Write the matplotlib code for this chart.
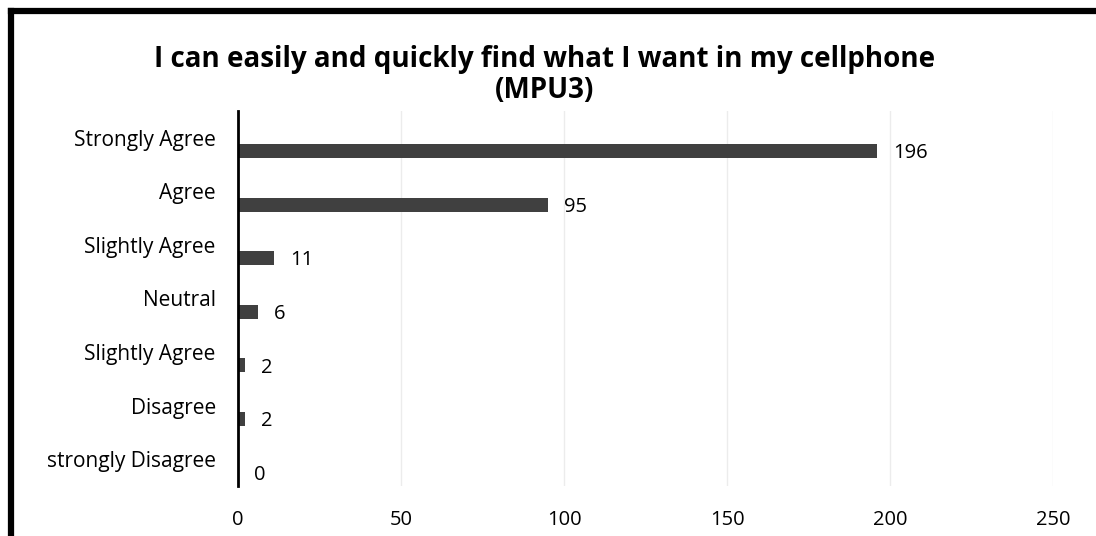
import matplotlib.pyplot as plt
from matplotlib.lines import Line2D
import numpy as np

# data, top to bottom as in the chart
categories = ["Strongly Agree", "Agree", "Slightly Agree", "Neutral",
              "Slightly Agree", "Disagree", "strongly Disagree"]
counts = [196, 95, 11, 6, 2, 2, 0]
xticks = [0, 50, 100, 150, 200, 250]

plt.rcParams['font.family'] = ['Open Sans', 'DejaVu Sans']

fig = plt.figure(figsize=(10.96, 5.36), dpi=100)
ax = fig.add_axes([0.2172, 0.0933, 0.7436, 0.6996])

pos = np.arange(len(categories))
# bar sits below the category centre (excel style clustered offset)
bars = ax.barh(pos + 0.25, counts, height=0.26, color="#404040", zorder=3)
for b, v in zip(bars, counts):
    ax.text(b.get_width() + 5, b.get_y() + b.get_height() / 2 + 0.04, str(v),
            va="center", ha="left", fontsize=14.5, color="black")

ax.set_xlim(0, 250)
ax.set_ylim(len(categories) - 0.5, -0.5)
ax.set_yticks(pos)
ax.set_yticklabels(categories, fontsize=15)
ax.set_xticks(xticks)
ax.set_xticklabels([str(t) for t in xticks], fontsize=14.5)
ax.tick_params(axis="both", length=0)
ax.tick_params(axis="y", pad=16)
ax.tick_params(axis="x", pad=17)
ax.grid(axis="x", color="#ececec", linewidth=1, zorder=0)
for s in ["top", "right", "bottom"]:
    ax.spines[s].set_visible(False)
ax.spines["left"].set_linewidth(2)
ax.spines["left"].set_zorder(4)

fig.text(0.497, 0.889, "I can easily and quickly find what I want in my cellphone",
         ha="center", va="center", fontsize=20, fontweight="bold")
fig.text(0.497, 0.831, "(MPU3)", ha="center", va="center", fontsize=20, fontweight="bold")

# thick border on top and left only (right/bottom cut off in original)
fig.add_artist(Line2D([0.0098, 0.0098], [0, 0.979], color="black", linewidth=4.5,
                      transform=fig.transFigure, solid_capstyle="projecting"))
fig.add_artist(Line2D([0.0098, 1], [0.979, 0.979], color="black", linewidth=4.5,
                      transform=fig.transFigure, solid_capstyle="projecting"))

fig.savefig("out.png", dpi=100)
